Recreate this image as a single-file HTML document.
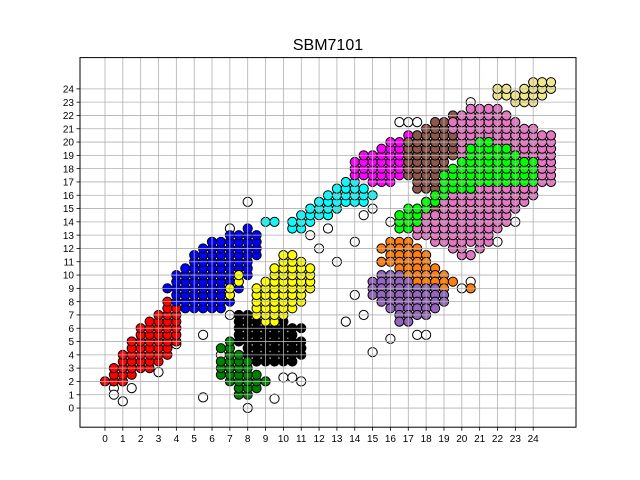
<!DOCTYPE html>
<html><head><meta charset="utf-8"><style>
body{margin:0;background:#fff}
svg{display:block;font-family:"Liberation Sans",sans-serif}
</style></head><body>
<svg id="chart" width="640" height="480" viewBox="0 0 640 480" xmlns="http://www.w3.org/2000/svg">
<rect width="640" height="480" fill="#fff"/>
<text x="328" y="50" text-anchor="middle" font-size="16">SBM7101</text>
<g id="pts"></g>
<g id="grid"></g>
<rect x="80" y="57.6" width="496" height="369.6" fill="none" stroke="#000" stroke-width="1"/>
<g id="ticks"></g>
</svg>
<script>
const xTicks=[0,1,2,3,4,5,6,7,8,9,10,11,12,13,14,15,16,17,18,19,20,21,22,23,24];
const yTicks=[0,1,2,3,4,5,6,7,8,9,10,11,12,13,14,15,16,17,18,19,20,21,22,23,24];
// rows: [y, [x values]]
const outliers=[[1.5,[0.5,1.5]],[1,[0.5]],[0.5,[1]],[2,[1]],[2.7,[3]],[4.8,[4]],[5.5,[5.5]],[4,[6.5]],[7,[7]],[0,[8]],[0.8,[5.5]],[0.7,[9.5]],[2.3,[10,10.5]],[2,[11]],[4.5,[9,11]],[15.5,[8]],[13,[11.5]],[13.5,[12.5]],[6.5,[13.5]],[8.5,[14]],[4.2,[15]],[5.2,[16]],[5.5,[17.5,18]],[7,[14.5]],[11,[15.5,13]],[12.5,[14,22,6]],[21.5,[16.5,17,17.5]],[18.5,[24.5]],[16,[24]],[14,[23,16]],[12,[21,12]],[9.5,[20.5]],[9,[20]],[11,[5]],[13.5,[7]],[14.5,[12.5,14.5]],[15,[15]],[23,[20.5]]];
const red=[[2,[0,0.5,1]],[2.5,[0.5,1,1.5]],[3,[0.5,1,1.5,2,2.5]],[3.5,[1,1.5,2,2.5,3]],[4,[1,1.5,2,2.5,3,3.5]],[4.5,[1.5,2,2.5,3,3.5]],[5,[1.5,2,2.5,3,3.5,4]],[5.5,[2,2.5,3,3.5,4]],[6,[2,2.5,3,3.5,4]],[6.5,[2.5,3,3.5,4]],[7,[3,3.5,4]],[7.5,[3.5,4]],[8,[3.5]]];
const blue=[[7.5,[4.5,5,5.5,6,6.5]],[8,[4,4.5,5,5.5,6,6.5,7]],[8.5,[4,4.5,5,5.5,6,6.5,7]],[9,[3.5,4,4.5,5,5.5,6,6.5,7,7.5]],[9.5,[4,4.5,5,5.5,6,6.5,7,7.5]],[10,[4,4.5,5,5.5,6,6.5,7,7.5,8]],[10.5,[4.5,5,5.5,6,6.5,7,7.5,8]],[11,[5,5.5,6,6.5,7,7.5,8]],[11.5,[5,5.5,6,6.5,7,7.5,8,8.5]],[12,[5.5,6,6.5,7,7.5,8,8.5]],[12.5,[6,6.5,7,7.5,8,8.5]],[13,[7,7.5,8,8.5]],[13.5,[8]]];
const black=[[3.5,[8.5,9,9.5,10,10.5]],[4,[8,8.5,9,9.5,10,10.5,11]],[4.5,[8,8.5,9,9.5,10,10.5,11]],[5,[7.5,8,8.5,9,9.5,10,10.5,11]],[5.5,[7.5,8,8.5,9,9.5,10,10.5]],[6,[7.5,8,8.5,9,9.5,10,10.5,11]],[6.5,[7.5,8,8.5,9,9.5,10]],[7,[7.5,8]]];
const green=[[1,[7.5,8]],[1.5,[7.5,8,8.5]],[2,[7,7.5,8,8.5,9]],[2.5,[6.5,7,7.5,8,8.5]],[3,[6.5,7,7.5,8]],[3.5,[6.5,7,7.5,8]],[4,[7,7.5]],[4.5,[6.5,7]],[5,[7]]];
const yellow=[[6.5,[9,9.5]],[7,[8.5,9,9.5,10]],[7.5,[8.5,9,9.5,10,10.5]],[8,[8.5,9,9.5,10,10.5,11]],[8.5,[7,8.5,9,9.5,10,10.5,11]],[9,[7,8.5,9,9.5,10,10.5,11,11.5]],[9.5,[7.5,9,9.5,10,10.5,11,11.5]],[10,[7.5,9.5,10,10.5,11,11.5]],[10.5,[9.5,10,10.5,11,11.5]],[11,[10,10.5,11]],[11.5,[10,10.5]]];
const cyan=[[13.5,[10.5,11]],[14,[9,9.5,10.5,11,11.5]],[14.5,[11,11.5,12,12.5]],[15,[11.5,12,12.5,13]],[15.5,[12,12.5,13,13.5,14,14.5]],[16,[12.5,13,13.5,14,14.5,15]],[16.5,[13,13.5,14,14.5]],[17,[13.5,14]]];
const magenta=[[17,[15,15.5,16]],[17.5,[14,14.5,15,15.5,16,16.5]],[18,[14,14.5,15,15.5,16,16.5,17]],[18.5,[14,14.5,15,15.5,16,16.5,17,17.5]],[19,[14.5,15,15.5,16,16.5,17,17.5,18]],[19.5,[15.5,16,16.5,17,17.5,18]],[20,[16,16.5,17,17.5,18]],[20.5,[17,17.5]]];
const brown=[[14,[18.5,19]],[14.5,[18.5,19]],[15,[18,18.5,19]],[15.5,[18,18.5,19]],[16,[18.5,19]],[16.5,[17.5,18,18.5,19,19.5]],[17,[17.5,18,18.5,19,19.5]],[17.5,[17,17.5,18,18.5,19,19.5]],[18,[17,17.5,18,18.5,19]],[18.5,[17,17.5,18,18.5,19]],[19,[17,17.5,18,18.5,19,19.5]],[19.5,[17,17.5,18,18.5,19,19.5]],[20,[17,17.5,18,18.5,19,19.5,20]],[20.5,[17.5,18,18.5,19,19.5,20]],[21,[18,18.5,19,19.5,20]],[21.5,[18.5,19,19.5,20]],[22,[19.5,20]]];
const pink=[[11.5,[20,20.5]],[12,[19.5,20,21]],[12.5,[18.5,19,19.5,20,20.5,21,21.5]],[13,[17.5,18,18.5,19,19.5,20,20.5,21,21.5]],[13.5,[17.5,18,18.5,19,19.5,20,20.5,21,21.5,22]],[14,[18,18.5,19,19.5,20,20.5,21,21.5,22,22.5]],[14.5,[18,18.5,19,19.5,20,20.5,21,21.5,22,22.5]],[15,[19,19.5,20,20.5,21,21.5,22,22.5,23]],[15.5,[19,19.5,20,20.5,21,21.5,22,22.5,23,23.5]],[16,[19.5,20,20.5,21,21.5,22,22.5,23,23.5,24]],[16.5,[20,20.5,21,21.5,22,22.5,23,23.5,24]],[17,[24.5,25]],[17.5,[24.5,25]],[18,[24.5,25]],[18.5,[24.5,25]],[19,[20,23.5,24,24.5,25]],[19.5,[20,23,23.5,24,24.5,25]],[20,[20,20.5,22,22.5,23,23.5,24,24.5,25]],[20.5,[20,20.5,21,21.5,22,22.5,23,23.5,24,24.5,25]],[21,[19.5,20,20.5,21,21.5,22,22.5,23,23.5,24]],[21.5,[19.5,20,20.5,21,21.5,22,22.5,23]],[22,[20,20.5,21,21.5,22,22.5]],[22.5,[20.5,21,21.5,22]]];
const lime=[[13.5,[16.5,17]],[14,[16.5,17,17.5]],[14.5,[16.5,17,17.5]],[15,[17,17.5,18]],[15.5,[18,18.5]],[16,[18.5,19]],[16.5,[19,19.5,20,20.5]],[17,[19,19.5,20,20.5,21,21.5,22,22.5,23,23.5,24]],[17.5,[19,19.5,20,20.5,21,21.5,22,22.5,23,23.5,24]],[18,[19.5,20,20.5,21,21.5,22,22.5,23,23.5,24]],[18.5,[20,20.5,21,21.5,22,22.5,23,23.5,24]],[19,[20.5,21,21.5,22,22.5,23]],[19.5,[20.5,21,21.5,22,22.5]],[20,[21,21.5]]];
const khaki=[[23,[23,23.5,24]],[23.5,[22,22.5,23,23.5,24,24.5]],[24,[22,22.5,23.5,24,24.5,25]],[24.5,[24,24.5,25]]];
const orange=[[12.5,[16,16.5,17]],[12,[15.5,16,16.5,17,17.5]],[11.5,[16,16.5,17,17.5,18]],[11,[15.5,16,16.5,17,17.5,18]],[10.5,[16.5,17,17.5,18,18.5]],[10,[17,17.5,18,18.5,19]],[9.5,[17.5,18,18.5,19,19.5]],[9,[18.5,19,20.5]]];
const purple=[[10,[15.5,16,16.5]],[9.5,[15,15.5,16,16.5,17]],[9,[15,15.5,16,16.5,17,17.5,18,18.5]],[8.5,[15,15.5,16,16.5,17,17.5,18,18.5,19]],[8,[15.5,16,16.5,17,17.5,18,18.5,19]],[7.5,[16,16.5,17,17.5,18,18.5]],[7,[16.5,17,17.5,18]],[6.5,[16.5,17]]];
const seriesList=[["outliers",outliers,"#ffffff"],["red",red,"#ff0000"],["blue",blue,"#0000ff"],["black",black,"#000000"],["green",green,"#008000"],["yellow",yellow,"#ffff00"],["cyan",cyan,"#00ffff"],["magenta",magenta,"#ff00ff"],["brown",brown,"#8c564b"],["pink",pink,"#e377c2"],["lime",lime,"#00ff00"],["khaki",khaki,"#f0e68c"],["orange",orange,"#ff7f0e"],["purple",purple,"#9467bd"]];
const X0=80,X1=576,Y0=427.2,Y1=57.6,xmin=-1.4,xmax=26.4,ymin=-1.44,ymax=26.35;
const sx=v=>X0+(v-xmin)/(xmax-xmin)*(X1-X0);
const sy=v=>Y0-(v-ymin)/(ymax-ymin)*(Y0-Y1);
const NS="http://www.w3.org/2000/svg";
const pts=document.getElementById('pts'),grid=document.getElementById('grid'),ticks=document.getElementById('ticks');
function mk(t,a,p){const e=document.createElementNS(NS,t);for(const k in a)e.setAttribute(k,a[k]);p.appendChild(e);return e;}
seriesList.forEach(s=>{
  const g=mk('g',{},pts);
  
  
  s[1].forEach(r=>r[1].forEach(x=>{
    const c=mk('circle',{cx:sx(x).toFixed(1),cy:sy(r[0]).toFixed(1),r:4.6,fill:s[2],stroke:'#000','stroke-width':1},g);
    
    
  }));
});
xTicks.forEach(v=>{
  const x=sx(v);
  const l=mk('line',{x1:x,x2:x,y1:Y1,y2:Y0,stroke:'#b0b0b0','stroke-width':0.8},grid);
  
  
  const tk=mk('line',{x1:x,x2:x,y1:Y0,y2:Y0+3.5,stroke:'#000','stroke-width':0.8},ticks);
  
  
  const t=mk('text',{x:x,y:Y0+15,'text-anchor':'middle','font-size':10},ticks);
  t.textContent=v;
  
  
});
yTicks.forEach(v=>{
  const y=sy(v);
  const l=mk('line',{x1:X0,x2:X1,y1:y,y2:y,stroke:'#b0b0b0','stroke-width':0.8},grid);
  
  
  const tk=mk('line',{x1:X0-3.5,x2:X0,y1:y,y2:y,stroke:'#000','stroke-width':0.8},ticks);
  
  
  const t=mk('text',{x:X0-6,y:y+3.6,'text-anchor':'end','font-size':10},ticks);
  t.textContent=v;
  
  
});
</script>
</body></html>
